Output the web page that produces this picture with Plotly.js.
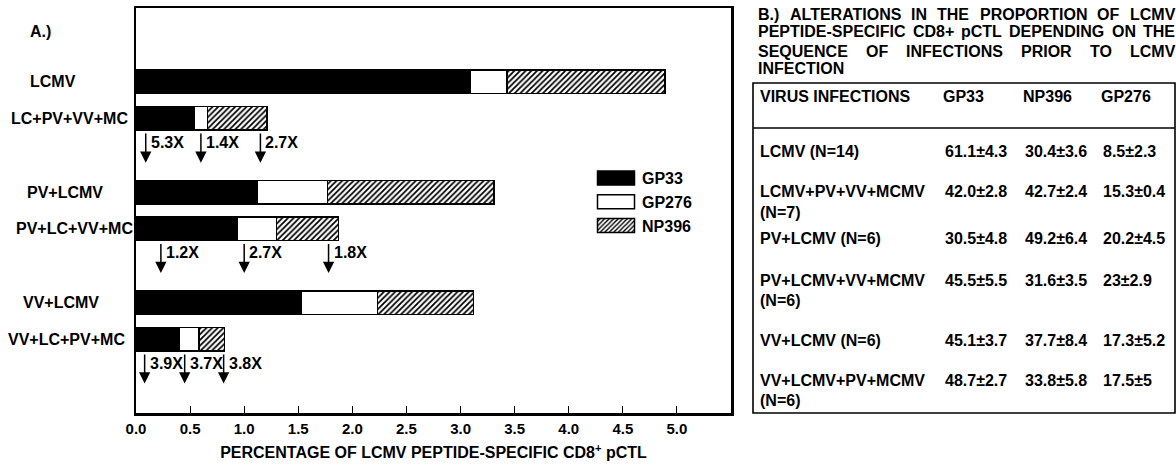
<!DOCTYPE html>
<html><head><meta charset="utf-8">
<script src="https://cdn.plot.ly/plotly-3.0.1.min.js"></script>
<style>body{margin:0;background:#fff}#chart{width:1176px;height:467px}</style>
</head><body><div id="chart"></div>
<script>
// ---------------- DATA ----------------
const categories = ['LCMV','LC+PV+VV+MC','PV+LCMV','PV+LC+VV+MC','VV+LCMV','VV+LC+PV+MC'];
const gp33  = [3.09, 0.54, 1.12, 0.94, 1.53, 0.40];
const gp276 = [0.34, 0.12, 0.65, 0.36, 0.70, 0.18];
const np396 = [1.46, 0.55, 1.54, 0.57, 0.89, 0.24];
const xTicks = [0,0.5,1,1.5,2,2.5,3,3.5,4,4.5,5];
const foldLabels = [['5.3X','1.4X','2.7X'],['1.2X','2.7X','1.8X'],['3.9X','3.7X','3.8X']];
const foldArrowX = [[0.09,0.60,1.15],[0.23,1.00,1.78],[0.08,0.45,0.81]];

const titleB = ['B.) ALTERATIONS IN THE PROPORTION OF LCMV',
                'PEPTIDE-SPECIFIC CD8+ pCTL DEPENDING ON THE',
                'SEQUENCE OF INFECTIONS PRIOR TO LCMV',
                'INFECTION'];
const tableHeader = ['VIRUS INFECTIONS','GP33','NP396','GP276'];
const tableRows = ['LCMV (N=14)','LCMV+PV+VV+MCMV<br>(N=7)','PV+LCMV (N=6)',
                   'PV+LCMV+VV+MCMV<br>(N=6)','VV+LCMV (N=6)','VV+LCMV+PV+MCMV<br>(N=6)'];
const tableGP33  = ['61.1±4.3','42.0±2.8','30.5±4.8','45.5±5.5','45.1±3.7','48.7±2.7'];
const tableNP396 = ['30.4±3.6','42.7±2.4','49.2±6.4','31.6±3.5','37.7±8.4','33.8±5.8'];
const tableGP276 = ['8.5±2.3','15.3±0.4','20.2±4.5','23±2.9','17.3±5.2','17.5±5'];

// ---------------- LAYOUT CONSTANTS ----------------
const W=1176, H=467, L=136, R=731, T=8, B=413;
const FAM = 'Liberation Sans, Arial, Helvetica, sans-serif';
const FONT = {family: FAM, size: 16, color: '#000', weight: 'bold'};
const catPos = [2,3,5,6,8,9];
const labelLeft = [30, 11, 27, 16, 23, 8];
const px2x = px => (px - L) / (R - L);
const py2y = py => (B - py) / (B - T);

const barLine = {color:'#000', width:1.5};
const traces = [
  {type:'bar', orientation:'h', name:'GP33', x:gp33, y:catPos, width:0.64,
   marker:{color:'#000', line:barLine}},
  {type:'bar', orientation:'h', name:'GP276', x:gp276, y:catPos, width:0.64,
   marker:{color:'#fff', line:barLine}},
  {type:'bar', orientation:'h', name:'NP396', x:np396, y:catPos, width:0.64,
   marker:{color:'#fff', line:barLine,
     pattern:{shape:'/', fgcolor:'#000', bgcolor:'#fff', size:4, solidity:0.45}}}
];

const ann = [];
ann.push({xref:'paper', yref:'paper', x:px2x(28), y:py2y(32), xanchor:'left', yanchor:'middle',
          text:'A.)', showarrow:false, font:FONT});
categories.forEach((c,i)=>ann.push({xref:'paper', yref:'y', x:px2x(labelLeft[i]-2), y:catPos[i],
  xanchor:'left', yanchor:'middle', text:c, showarrow:false, font:FONT}));

[1,3,5].forEach((bi,r)=>{
  const yb = catPos[bi];
  foldArrowX[r].forEach((ax,j)=>{
    ann.push({xref:'x', yref:'y', axref:'x', ayref:'y', x:ax, y:yb+1.2, ax:ax, ay:yb+0.37,
      text:'', showarrow:true, arrowhead:2, arrowsize:1.5, arrowwidth:1.5, arrowcolor:'#000', standoff:0});
    ann.push({xref:'x', yref:'y', x:ax, y:yb+0.65, xshift:3, xanchor:'left', yanchor:'middle',
      text:foldLabels[r][j], showarrow:false, font:FONT});
  });
});

// Panel B title (justified)
const ctx = document.createElement('canvas').getContext('2d');
ctx.font = 'bold 16px "Liberation Sans"';
const titleY = [14, 32, 51, 69];
const tLeft = 758, tRight = 1175;
titleB.forEach((line,li)=>{
  const words = line.split(' ');
  if (li === titleB.length-1) {
    ann.push({xref:'paper', yref:'paper', x:px2x(tLeft-2), y:py2y(titleY[li]), xanchor:'left', yanchor:'middle',
      text:line, showarrow:false, font:FONT});
    return;
  }
  const ws = words.map(w=>ctx.measureText(w).width);
  const tot = ws.reduce((a,b)=>a+b,0);
  const gap = (tRight - tLeft - tot) / (words.length-1);
  let x = tLeft;
  words.forEach((w,k)=>{
    ann.push({xref:'paper', yref:'paper', x:px2x(x-2), y:py2y(titleY[li]), xanchor:'left', yanchor:'middle',
      text:w, showarrow:false, font:FONT});
    x += ws[k] + gap;
  });
});

// Table text
const colX = [760, 945, 1025, 1103];
const headX = [760, 943, 1023, 1101];
const headY = 96;
const rowY = [152, 192, 238, 280, 340, 380];
const lineGap = 20;
tableHeader.forEach((h,k)=>ann.push({xref:'paper', yref:'paper', x:px2x(headX[k]-2), y:py2y(headY),
  xanchor:'left', yanchor:'middle', text:h, showarrow:false, font:FONT}));
tableRows.forEach((rw,i)=>{
  rw.split('<br>').forEach((ln,k)=>ann.push({xref:'paper', yref:'paper', x:px2x(colX[0]-2),
    y:py2y(rowY[i]+k*lineGap), xanchor:'left', yanchor:'middle', text:ln, showarrow:false, font:FONT}));
  [tableGP33, tableNP396, tableGP276].forEach((col,c)=>ann.push({xref:'paper', yref:'paper',
    x:px2x(colX[c+1]-2), y:py2y(rowY[i]), xanchor:'left', yanchor:'middle', text:col[i],
    showarrow:false, font:FONT}));
});

const tLine = {color:'#000', width:1.6};
const shapes = [
  {type:'rect', xref:'paper', yref:'paper', x0:px2x(753), x1:px2x(1175), y0:py2y(413), y1:py2y(83), line:tLine},
  {type:'line', xref:'paper', yref:'paper', x0:px2x(753), x1:px2x(1175), y0:py2y(128), y1:py2y(128), line:tLine}
];

const layout = {
  width:W, height:H, margin:{l:L, r:W-R, t:T, b:H-B, pad:0},
  paper_bgcolor:'#fff', plot_bgcolor:'#fff',
  barmode:'stack', bargap:0, showlegend:true,
  font:{family:FAM, size:16, color:'#000'},
  xaxis:{range:[0,5.5], tickvals:xTicks, tickformat:'.1f', ticks:'inside', ticklen:7, tickwidth:1,
    tickcolor:'#000', showline:true, mirror:true, linewidth:2.5, linecolor:'#000',
    showgrid:false, zeroline:false, ticklabelstandoff:0,
    tickfont:{family:FAM, size:15, color:'#000', weight:'bold'},
    title:{text:'PERCENTAGE OF LCMV PEPTIDE-SPECIFIC CD8<sup>+</sup> pCTL', font:FONT, standoff:12}},
  yaxis:{range:[11,0], showticklabels:false, ticks:'', showline:true, mirror:true, linewidth:2.5,
    linecolor:'#000', showgrid:false, zeroline:false},
  legend:{x:px2x(590), y:py2y(161), xanchor:'left', yanchor:'top', bgcolor:'rgba(0,0,0,0)',
    font:FONT, itemwidth:42, tracegroupgap:0, traceorder:'normal'},
  annotations:ann, shapes:shapes
};

Plotly.newPlot('chart', traces, layout, {displayModeBar:false, staticPlot:true}).then(()=>{
  document.querySelectorAll('.legend .legendpoints path').forEach(p=>{
    p.setAttribute('d','M18.5,7H-18.5V-7H18.5Z');
  });
});
</script></body></html>
